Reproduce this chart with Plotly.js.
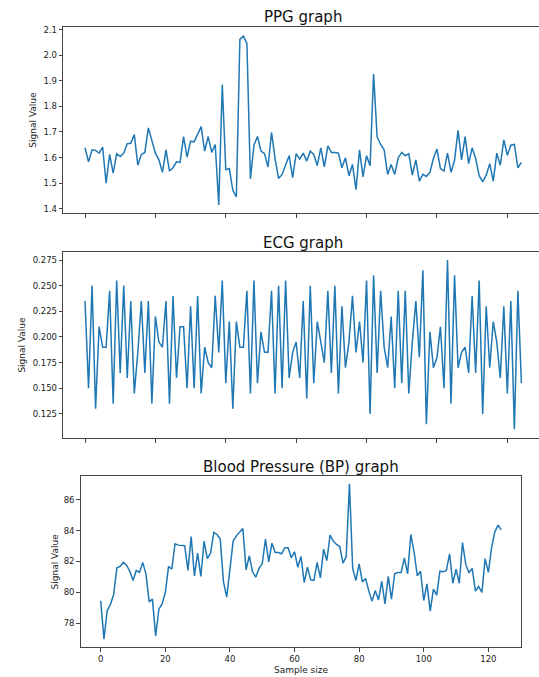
<!DOCTYPE html>
<html>
<head>
<meta charset="utf-8">
<script src="https://cdn.plot.ly/plotly-3.0.1.min.js"></script>
<style>html,body{margin:0;padding:0;background:#fff;overflow:hidden}</style>
</head>
<body>
<div id="chart" style="width:539px;height:677px"></div>
<script>
const ppg = [1.638,1.583,1.630,1.628,1.617,1.641,1.500,1.612,1.539,1.615,1.604,1.617,1.654,1.656,1.690,1.570,1.612,1.620,1.716,1.664,
1.617,1.591,1.542,1.630,1.547,1.560,1.583,1.581,1.682,1.602,1.664,1.661,1.693,1.721,1.625,1.682,1.620,1.651,1.414,1.885,
1.552,1.557,1.472,1.446,2.062,2.075,2.046,1.516,1.648,1.682,1.625,1.615,1.563,1.698,1.596,1.518,1.534,1.573,1.607,1.521,
1.615,1.594,1.617,1.586,1.625,1.612,1.568,1.638,1.563,1.646,1.620,1.620,1.617,1.560,1.599,1.529,1.573,1.474,1.630,1.524,
1.607,1.568,1.927,1.680,1.651,1.630,1.534,1.573,1.534,1.599,1.620,1.607,1.615,1.531,1.591,1.508,1.534,1.526,1.542,1.596,
1.633,1.557,1.547,1.617,1.542,1.589,1.706,1.591,1.682,1.576,1.638,1.596,1.529,1.505,1.531,1.576,1.508,1.617,1.570,1.669,
1.609,1.648,1.651,1.560,1.581];

const ecg = [0.235,0.150,0.250,0.130,0.210,0.190,0.190,0.245,0.135,0.255,
0.165,0.250,0.160,0.235,0.145,0.185,0.235,0.165,0.235,0.135,
0.220,0.195,0.190,0.235,0.135,0.240,0.160,0.210,0.210,0.150,
0.230,0.150,0.240,0.145,0.190,0.175,0.170,0.240,0.185,0.255,
0.155,0.215,0.130,0.215,0.190,0.190,0.245,0.145,0.255,0.155,
0.205,0.185,0.185,0.245,0.145,0.250,0.150,0.255,0.160,0.185,
0.195,0.160,0.235,0.140,0.250,0.155,0.215,0.195,0.175,0.245,
0.165,0.250,0.145,0.230,0.170,0.195,0.240,0.185,0.215,0.175,
0.255,0.125,0.260,0.165,0.245,0.190,0.170,0.220,0.150,0.245,
0.155,0.245,0.145,0.195,0.235,0.180,0.265,0.115,0.205,0.170,
0.180,0.210,0.150,0.275,0.135,0.260,0.170,0.185,0.190,0.165,
0.240,0.165,0.255,0.125,0.230,0.170,0.215,0.195,0.160,0.230,
0.145,0.235,0.110,0.245,0.155];

const bp = [79.45,76.96,78.82,79.21,79.86,81.59,81.68,81.94,81.76,81.37,
80.77,81.42,81.29,81.94,81.20,79.38,79.56,77.18,78.91,79.25,
79.99,81.68,81.50,83.15,83.06,83.02,83.02,81.42,83.62,81.07,
82.54,81.03,83.32,82.19,82.54,83.88,83.75,83.45,80.68,79.69,
81.68,83.32,83.66,83.92,84.14,81.46,82.37,81.33,80.98,81.55,
81.85,83.45,81.98,83.19,82.58,82.58,82.50,82.89,82.89,82.24,
82.63,81.63,82.32,80.64,81.63,80.81,80.77,81.94,80.94,82.80,
82.06,83.71,83.32,83.10,82.97,81.89,82.32,87.04,81.55,80.77,
81.85,80.68,80.90,80.08,79.43,80.12,79.51,80.72,79.25,81.03,
79.56,81.20,81.29,81.29,82.24,81.20,83.75,82.63,81.07,81.37,
79.47,80.55,78.78,80.21,79.82,81.37,81.33,81.42,82.50,80.59,
81.50,80.59,83.23,81.81,81.29,81.55,80.08,80.38,79.99,82.19,
81.29,82.89,83.92,84.36,84.05];

const xTicks = [0, 20, 40, 60, 80, 100, 120];
const ppgTicks = [1.4, 1.5, 1.6, 1.7, 1.8, 1.9, 2.0, 2.1];
const ecgTicks = [0.125, 0.150, 0.175, 0.200, 0.225, 0.250, 0.275];
const bpTicks = [78, 80, 82, 84, 86];
const titles = ['PPG graph', 'ECG graph', 'Blood Pressure (BP) graph'];
const yLabel = 'Signal Value';
const xLabel = 'Sample size';

const FONT = 'DejaVu Sans, Verdana, sans-serif';
const LINE = '#444';
const W = 539, H = 677;
const idx = arr => arr.map((_, i) => i);

function line(y, xa, ya) {
  return {x: idx(y), y: y, xaxis: xa, yaxis: ya, type: 'scatter', mode: 'lines',
    line: {color: '#1f77b4', width: 1.5}, hoverinfo: 'skip'};
}

const baseX = {tickvals: xTicks, ticks: 'outside', ticklen: 3.5, tickwidth: 1, tickcolor: LINE,
  showline: true, linecolor: LINE, linewidth: 1, mirror: true, showgrid: false, zeroline: false,
  tickfont: {family: FONT, size: 8.5, color: '#222'}};
const baseY = {ticks: 'outside', ticklen: 3.5, tickwidth: 1, tickcolor: LINE,
  showline: true, linecolor: LINE, linewidth: 1, showgrid: false, zeroline: false,
  tickfont: {family: FONT, size: 8.5, color: '#222'}};

const py = (top, bot) => [(H - bot) / H, (H - top) / H];

const layout = {
  width: W, height: H, margin: {l: 0, r: 0, t: 0, b: 0},
  paper_bgcolor: '#fff', plot_bgcolor: '#fff', showlegend: false,
  font: {family: FONT, color: '#222'},
  xaxis: Object.assign({}, baseX, {domain: [63.2 / W, 1], range: [-6.2, 129.0], anchor: 'y', showticklabels: false}),
  yaxis: Object.assign({}, baseY, {domain: py(27, 213), range: [1.383, 2.1105], anchor: 'x',
    tickvals: ppgTicks, ticktext: ppgTicks.map(v => v.toFixed(1)),
    title: {text: yLabel, font: {family: FONT, size: 9, color: '#222'}, standoff: 5}}),
  xaxis2: Object.assign({}, baseX, {domain: [63.2 / W, 1], range: [-6.2, 129.0], anchor: 'y2', showticklabels: false}),
  yaxis2: Object.assign({}, baseY, {domain: py(252, 438), range: [0.1015, 0.2828], anchor: 'x2',
    tickvals: ecgTicks, ticktext: ecgTicks.map(v => v.toFixed(3)),
    title: {text: yLabel, font: {family: FONT, size: 9, color: '#222'}, standoff: 5}}),
  xaxis3: Object.assign({}, baseX, {domain: [80.7 / W, 521.3 / W], range: [-6.2, 130.2], anchor: 'y3',
    title: {text: xLabel, font: {family: FONT, size: 9, color: '#222'}, standoff: 3}}),
  yaxis3: Object.assign({}, baseY, {domain: py(476.3, 647.3), range: [76.44, 87.52], anchor: 'x3', mirror: true,
    tickvals: bpTicks, ticktext: bpTicks.map(String),
    title: {text: yLabel, font: {family: FONT, size: 9, color: '#222'}, standoff: 3}}),
  annotations: [
    {text: titles[0], x: 303 / W, y: (H - 27 - 1.5) / H},
    {text: titles[1], x: 303 / W, y: (H - 252 - 1.5) / H},
    {text: titles[2], x: 301 / W, y: (H - 476.3 - 1.5) / H}
  ].map(a => Object.assign(a, {xref: 'paper', yref: 'paper', xanchor: 'center', yanchor: 'bottom',
    showarrow: false, font: {family: FONT, size: 15, color: '#111'}}))
};

Plotly.newPlot('chart', [line(ppg, 'x', 'y'), line(ecg, 'x2', 'y2'), line(bp, 'x3', 'y3')], layout,
  {staticPlot: true, displayModeBar: false});
</script>
</body>
</html>
